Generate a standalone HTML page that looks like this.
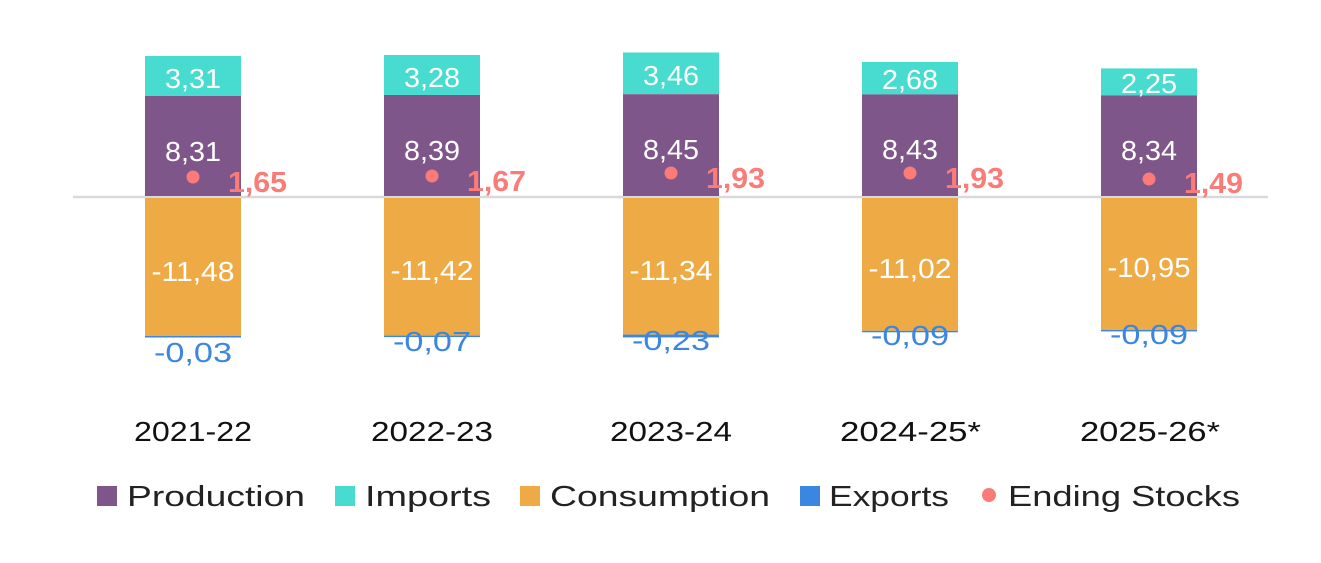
<!DOCTYPE html>
<html><head><meta charset="utf-8"><style>
html,body{margin:0;padding:0;background:#fff;}
svg text{font-family:"Liberation Sans",sans-serif;}
</style></head><body>
<svg width="1321" height="558" viewBox="0 0 1321 558" xmlns="http://www.w3.org/2000/svg">
<line x1="73" y1="197" x2="1268" y2="197" stroke="#d9d9d9" stroke-width="2.5"/>
<g font-size="28" text-anchor="middle" fill="#fff">
<rect x="145" y="56" width="96" height="40" fill="#48dbcf"/>
<rect x="145" y="96" width="96" height="100" fill="#7e568a"/>
<rect x="145" y="198" width="96" height="138" fill="#eeab45"/>
<rect x="145" y="336" width="96" height="1.5" fill="#3a86e0"/>
<text x="193" y="88" textLength="56" lengthAdjust="spacingAndGlyphs">3,31</text><text x="193" y="161" textLength="56" lengthAdjust="spacingAndGlyphs">8,31</text><text x="193" y="281" textLength="83" lengthAdjust="spacingAndGlyphs">-11,48</text>
<text x="193" y="362" fill="#3a86e0" textLength="78" lengthAdjust="spacingAndGlyphs">-0,03</text>
<rect x="384" y="55" width="96" height="40" fill="#48dbcf"/>
<rect x="384" y="95" width="96" height="101" fill="#7e568a"/>
<rect x="384" y="198" width="96" height="137.6" fill="#eeab45"/>
<rect x="384" y="335.6" width="96" height="1.5" fill="#3a86e0"/>
<text x="432" y="87" textLength="56" lengthAdjust="spacingAndGlyphs">3,28</text><text x="432" y="160" textLength="56" lengthAdjust="spacingAndGlyphs">8,39</text><text x="432" y="280" textLength="83" lengthAdjust="spacingAndGlyphs">-11,42</text>
<text x="432" y="351" fill="#3a86e0" textLength="78" lengthAdjust="spacingAndGlyphs">-0,07</text>
<rect x="623" y="52.5" width="96" height="41.7" fill="#48dbcf"/>
<rect x="623" y="94.2" width="96" height="101.8" fill="#7e568a"/>
<rect x="623" y="198" width="96" height="136.6" fill="#eeab45"/>
<rect x="623" y="334.6" width="96" height="2.8" fill="#3a86e0"/>
<text x="671" y="85" textLength="56" lengthAdjust="spacingAndGlyphs">3,46</text><text x="671" y="159" textLength="56" lengthAdjust="spacingAndGlyphs">8,45</text><text x="671" y="280" textLength="83" lengthAdjust="spacingAndGlyphs">-11,34</text>
<text x="671" y="350" fill="#3a86e0" textLength="78" lengthAdjust="spacingAndGlyphs">-0,23</text>
<rect x="862" y="62" width="96" height="32.4" fill="#48dbcf"/>
<rect x="862" y="94.4" width="96" height="101.6" fill="#7e568a"/>
<rect x="862" y="198" width="96" height="132.8" fill="#eeab45"/>
<rect x="862" y="330.8" width="96" height="1.5" fill="#3a86e0"/>
<text x="910" y="89" textLength="56" lengthAdjust="spacingAndGlyphs">2,68</text><text x="910" y="159" textLength="56" lengthAdjust="spacingAndGlyphs">8,43</text><text x="910" y="278" textLength="83" lengthAdjust="spacingAndGlyphs">-11,02</text>
<text x="910" y="345" fill="#3a86e0" textLength="78" lengthAdjust="spacingAndGlyphs">-0,09</text>
<rect x="1101" y="68.4" width="96" height="27.1" fill="#48dbcf"/>
<rect x="1101" y="95.5" width="96" height="100.5" fill="#7e568a"/>
<rect x="1101" y="198" width="96" height="131.9" fill="#eeab45"/>
<rect x="1101" y="329.9" width="96" height="1.5" fill="#3a86e0"/>
<text x="1149" y="93" textLength="56" lengthAdjust="spacingAndGlyphs">2,25</text><text x="1149" y="160" textLength="56" lengthAdjust="spacingAndGlyphs">8,34</text><text x="1149" y="277" textLength="83" lengthAdjust="spacingAndGlyphs">-10,95</text>
<text x="1149" y="344" fill="#3a86e0" textLength="78" lengthAdjust="spacingAndGlyphs">-0,09</text>
</g>
<g fill="#fa7b78">
<circle cx="193" cy="177" r="6.5"/><circle cx="432" cy="176" r="6.5"/><circle cx="671" cy="173" r="6.5"/><circle cx="910" cy="173" r="6.5"/><circle cx="1149" cy="179" r="6.5"/>
</g>
<g font-size="29" font-weight="bold" fill="#fa7b78">
<text x="228" y="192" textLength="59" lengthAdjust="spacingAndGlyphs">1,65</text><text x="467" y="191" textLength="59" lengthAdjust="spacingAndGlyphs">1,67</text><text x="706" y="188" textLength="59" lengthAdjust="spacingAndGlyphs">1,93</text><text x="945" y="188" textLength="59" lengthAdjust="spacingAndGlyphs">1,93</text><text x="1184" y="193" textLength="59" lengthAdjust="spacingAndGlyphs">1,49</text>
</g>
<g font-size="28" fill="#111">
<text x="134" y="441" textLength="118" lengthAdjust="spacingAndGlyphs">2021-22</text><text x="371" y="441" textLength="122" lengthAdjust="spacingAndGlyphs">2022-23</text><text x="610" y="441" textLength="122" lengthAdjust="spacingAndGlyphs">2023-24</text><text x="840" y="441" textLength="141" lengthAdjust="spacingAndGlyphs">2024-25*</text><text x="1080" y="441" textLength="140" lengthAdjust="spacingAndGlyphs">2025-26*</text>
</g>
<g font-size="29" fill="#222">
<rect x="97" y="486" width="20" height="20" fill="#7e568a"/><text x="127" y="506" textLength="178" lengthAdjust="spacingAndGlyphs">Production</text>
<rect x="335" y="486" width="20" height="20" fill="#48dbcf"/><text x="365" y="506" textLength="126" lengthAdjust="spacingAndGlyphs">Imports</text>
<rect x="520" y="486" width="20" height="20" fill="#eeab45"/><text x="550" y="506" textLength="220" lengthAdjust="spacingAndGlyphs">Consumption</text>
<rect x="800" y="486" width="20" height="20" fill="#3a86e0"/><text x="829" y="506" textLength="120" lengthAdjust="spacingAndGlyphs">Exports</text>
<circle cx="989" cy="495" r="7" fill="#fa7b78"/><text x="1008" y="506" textLength="232" lengthAdjust="spacingAndGlyphs">Ending Stocks</text>
</g>
</svg>
</body></html>
